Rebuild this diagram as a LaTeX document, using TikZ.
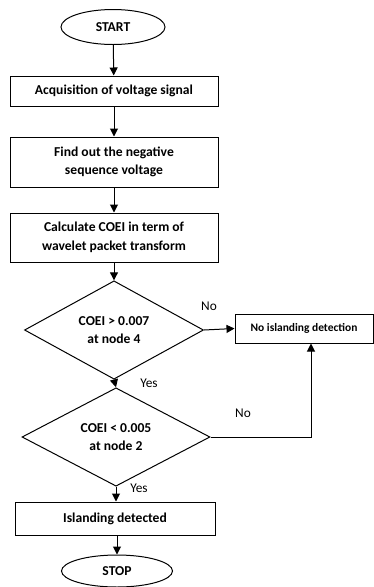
\documentclass[tikz,border=0pt]{standalone}
\usepackage{fontspec}
\setmainfont{Carlito}
\usetikzlibrary{shapes.geometric,arrows.meta}
\begin{document}
\begin{tikzpicture}[x=0.75pt,y=-0.75pt,
  every node/.style={font=\bfseries\fontsize{10.2}{14}\selectfont, align=center, inner sep=1pt},
  box/.style={draw, rectangle, line width=0.75pt, minimum width=156pt},
  term/.style={draw, ellipse, line width=0.75pt},
  dec/.style={draw, diamond, line width=0.75pt, inner sep=0pt},
  lbl/.style={font=\fontsize{10}{12}\selectfont},
  arr/.style={line width=0.75pt, -{Triangle[length=6pt,width=6pt]}}]
\useasboundingbox (0,0) rectangle (374,587);
\node[term, minimum width=78pt, minimum height=26.25pt] (start) at (113,27) {START};
\node[box, minimum height=22.5pt] (b1) at (114,91) {Acquisition of voltage signal};
\node[box, minimum height=37.5pt] (b2) at (114,162) {Find out the negative\\sequence voltage};
\node[box, minimum height=36.75pt] (b3) at (114,237.5) {Calculate COEI in term of\\wavelet packet transform};
\node[dec, minimum width=134.25pt, minimum height=64.5pt] (d1) at (114,330) {COEI > 0.007\\at node 4};
\node[box, minimum width=103.5pt, minimum height=21.75pt, font=\bfseries\fontsize{8.6}{10}\selectfont] (ni) at (304,328.5) {No islanding detection};
\node[dec, minimum width=141pt, minimum height=60pt] (d2) at (116,437) {COEI < 0.005\\at node 2};
\node[box, minimum width=150pt, minimum height=24.75pt] (is) at (115,518.5) {Islanding detected};
\node[term, minimum width=83.25pt, minimum height=24pt] (stop) at (117,571) {STOP};
\coordinate (corner) at (311,437);
\draw[arr] (start) -- (b1);
\draw[arr] (b1) -- (b2);
\draw[arr] (b2) -- (b3);
\draw[arr] (b3) -- (d1);
\draw[arr] (d1.east) -- (ni.west);
\draw[arr] (d1.south) -- (d2.north);
\draw[arr] (d2.east) -- (corner) -- (corner |- ni.south);
\draw[arr] (d2.south) -- (is.north -| d2.south);
\draw[arr] (is.south -| stop.north) -- (stop.north);
\node[lbl] (no1) at (209,306) {No};
\node[lbl] (yes1) at (149,383) {Yes};
\node[lbl] (no2) at (243,413) {No};
\node[lbl] (yes2) at (139,488) {Yes};
\end{tikzpicture}
\end{document}
